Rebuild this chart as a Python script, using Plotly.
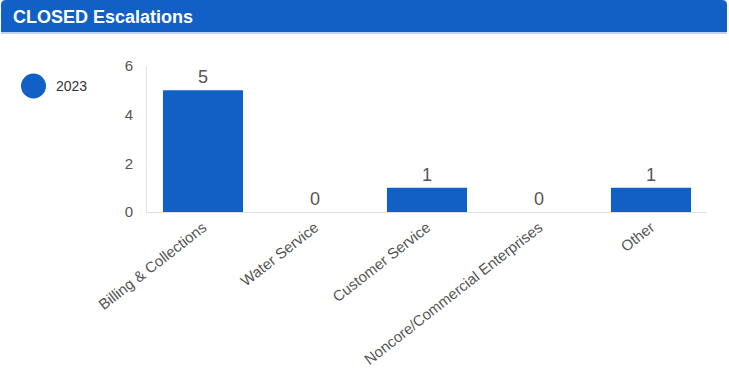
import plotly.graph_objects as go

categories = ["Billing & Collections", "Water Service", "Customer Service",
              "Noncore/Commercial Enterprises", "Other"]
values_2023 = [5, 0, 1, 0, 1]
series_name = "2023"
y_ticks = [0, 2, 4, 6]
title_text = "CLOSED Escalations"

W, H = 729, 372
L, R, T, B = 147, 22, 66, 160
PW, PH = W - L - R, H - T - B
BLUE = "#1160C6"
FONT = "Liberation Sans, Arial"


def px_x(p):
    return (p - L) / PW


def px_y(p):
    return (H - B - p) / PH


fig = go.Figure()
fig.add_trace(go.Bar(
    x=categories, y=values_2023, name=series_name,
    marker=dict(color=BLUE, line=dict(width=0)),
    text=[str(v) for v in values_2023], textposition="outside",
    textfont=dict(size=18, color="#555555", family=FONT),
    cliponaxis=False, showlegend=False,
))

# header bar with rounded top corners
r = 5
x0, x1, y0, y1 = 1, 727, 0, 32
path = (f"M {px_x(x0)} {px_y(y1)} L {px_x(x0)} {px_y(y0 + r)} "
        f"Q {px_x(x0)} {px_y(y0)} {px_x(x0 + r)} {px_y(y0)} "
        f"L {px_x(x1 - r)} {px_y(y0)} Q {px_x(x1)} {px_y(y0)} {px_x(x1)} {px_y(y0 + r)} "
        f"L {px_x(x1)} {px_y(y1)} Z")
shapes = [
    dict(type="path", xref="paper", yref="paper", path=path,
         fillcolor=BLUE, line=dict(width=0), layer="below"),
    dict(type="line", xref="paper", yref="paper",
         x0=px_x(1), x1=px_x(727), y0=px_y(33), y1=px_y(33),
         line=dict(color="#A9C6EC", width=1.5)),
    # legend marker
    dict(type="circle", xref="paper", yref="paper",
         x0=px_x(21), x1=px_x(46), y0=px_y(98.5), y1=px_y(73.5),
         fillcolor=BLUE, line=dict(width=0)),
]
annotations = [
    dict(text=f"<b>{title_text}</b>", xref="paper", yref="paper",
         x=px_x(11), y=px_y(16.5), xanchor="left", yanchor="middle",
         showarrow=False, font=dict(size=18, color="white", family=FONT)),
    dict(text=series_name, xref="paper", yref="paper",
         x=px_x(54), y=px_y(86), xanchor="left", yanchor="middle",
         showarrow=False, font=dict(size=14, color="#333333", family=FONT)),
]

fig.update_layout(
    width=W, height=H,
    margin=dict(l=L, r=R, t=T, b=B, autoexpand=False),
    paper_bgcolor="white", plot_bgcolor="white",
    bargap=0.285,
    shapes=shapes, annotations=annotations,
    showlegend=False,
    font=dict(family=FONT, color="#555555"),
    xaxis=dict(tickangle=-38, tickfont=dict(size=15, color="#555555"),
               showline=True, linecolor="#E3E3E3", linewidth=1,
               showgrid=False, ticks="", fixedrange=True, automargin=False),
    yaxis=dict(range=[0, 6], tickvals=y_ticks, tickfont=dict(size=15, color="#555555"),
               showline=True, linecolor="#E3E3E3", linewidth=1,
               showgrid=False, zeroline=False, ticks="", ticklabelstandoff=10,
               fixedrange=True, automargin=False),
)

fig.write_html("out.html", config=dict(displayModeBar=False))
